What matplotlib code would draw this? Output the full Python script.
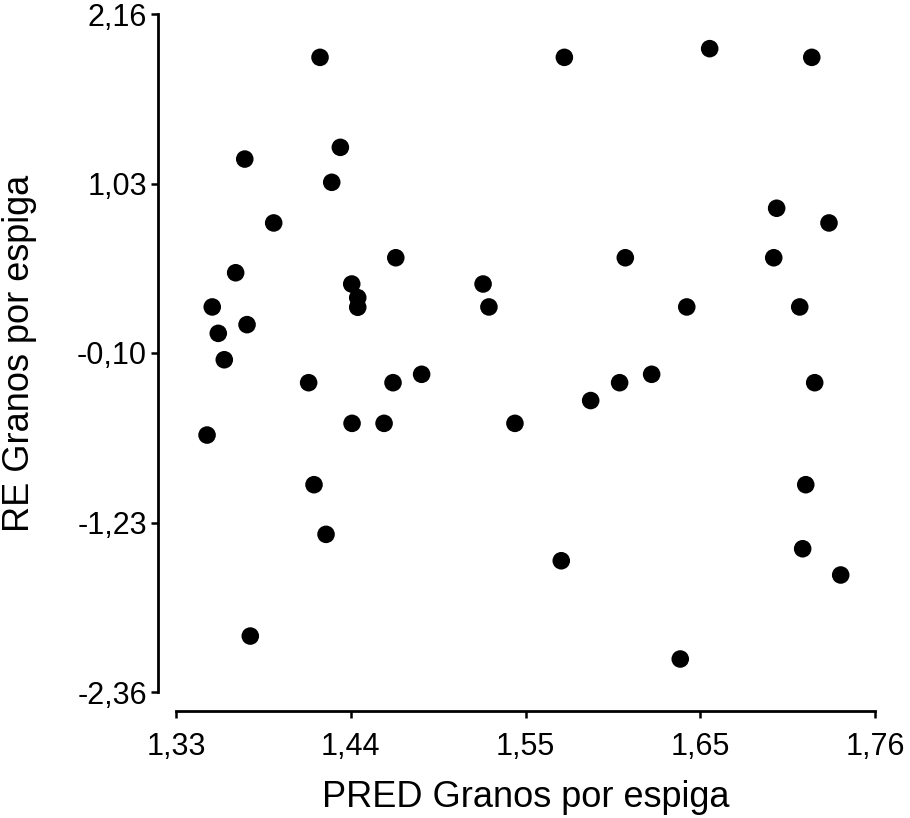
import numpy as np
import matplotlib
matplotlib.use("Agg")
import matplotlib.pyplot as plt

# valores
pred = [1.4186, 1.3723, 1.4311, 1.4258, 1.3901, 1.4652, 1.3667, 1.4381, 1.4418, 1.4418,
        1.3523, 1.3737, 1.3560, 1.3597, 1.4116, 1.4635, 1.4811, 1.4383, 1.4580, 1.5689,
        1.6583, 1.7211, 1.6995, 1.7317, 1.6064, 1.6977, 1.5189, 1.5225, 1.6442, 1.7137,
        1.6226, 1.6029, 1.5851, 1.7229, 1.5385, 1.3491, 1.4149, 1.4223, 1.3757, 1.7174,
        1.7155, 1.7389, 1.5670, 1.6402]
resid = [1.871, 1.193, 1.271, 1.038, 0.767, 0.535, 0.435, 0.360, 0.269, 0.205,
         0.207, 0.089, 0.031, -0.145, -0.298, -0.298, -0.242, -0.569, -0.569, 1.871,
         1.929, 1.871, 0.865, 0.767, 0.535, 0.535, 0.360, 0.207, 0.207, 0.207,
         -0.242, -0.298, -0.417, -0.298, -0.569, -0.647, -0.978, -1.309, -1.987, -0.978,
         -1.405, -1.580, -1.485, -2.140]

x_ticklabels = ["1,33", "1,44", "1,55", "1,65", "1,76"]
y_ticklabels = ["-2,36", "-1,23", "-0,10", "1,03", "2,16"]

plt.rcParams['font.family'] = ['Liberation Sans', 'DejaVu Sans']

fig = plt.figure(figsize=(9.1, 8.18), dpi=100)
ax = fig.add_axes([176 / 910, 1 - 692 / 818, 699 / 910, 678 / 818])

ax.scatter(pred, resid, s=160, color='black', edgecolors='none', zorder=3)

xt = np.linspace(1.33, 1.76, 5)
yt = np.linspace(-2.36, 2.16, 5)
ax.set_xlim(xt[0], xt[-1])
ax.set_ylim(yt[0], yt[-1])
ax.set_xticks(xt)
ax.set_xticklabels(x_ticklabels)
ax.set_yticks(yt)
ax.set_yticklabels(y_ticklabels)

for s in ['top', 'right']:
    ax.spines[s].set_visible(False)
ax.spines['left'].set_position(('outward', 13))
ax.spines['bottom'].set_position(('outward', 14))
ax.spines['left'].set_linewidth(2)
ax.spines['bottom'].set_linewidth(2)
ax.spines['left'].set_bounds(yt[0], yt[-1])
ax.spines['bottom'].set_bounds(xt[0], xt[-1])

ax.tick_params(axis='both', direction='out', length=5, width=1.8, labelsize=22)
ax.tick_params(axis='x', pad=10)
ax.tick_params(axis='y', pad=3)

ax.set_xlabel("PRED Granos por espiga", fontsize=26, labelpad=13)
ax.set_ylabel("RE Granos por espiga", fontsize=26, labelpad=29)

fig.savefig("out.png", dpi=100)
